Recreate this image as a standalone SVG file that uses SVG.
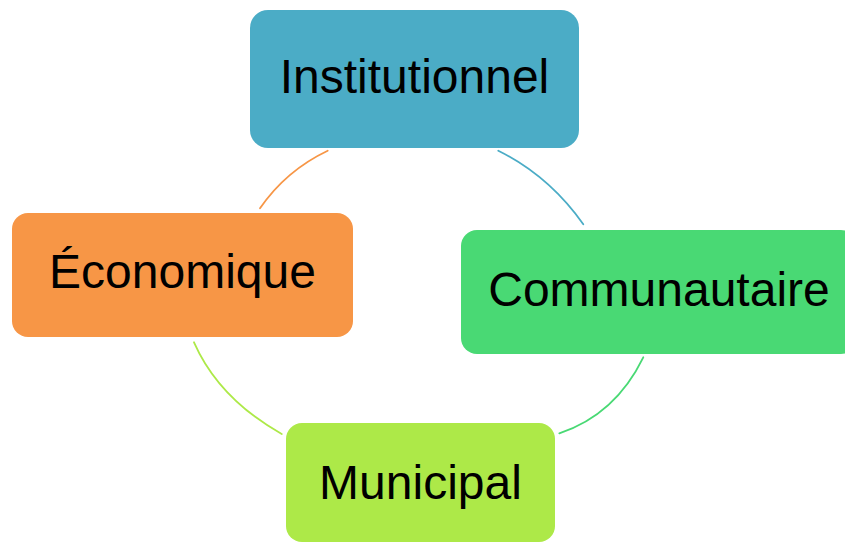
<svg xmlns="http://www.w3.org/2000/svg" width="845" height="543" viewBox="0 0 845 543">
<style>
.lbl{font-family:"Liberation Sans",Arial,sans-serif;font-size:48px;fill:#000;text-anchor:middle}
.arc{fill:none;stroke-width:1.8;stroke-linecap:round}
</style>
<rect width="845" height="543" fill="#fff"/>
<g id="connectors">
<path class="arc" stroke="#F79646" d="M327.7,150.7 Q286,170.5 260,208.3"/>
<path class="arc" stroke="#4BACC6" d="M498.3,150.7 Q549.2,175.9 583.3,224.3"/>
<path class="arc" stroke="#49D974" d="M643.3,357.3 Q615.3,414.7 559.3,433.3"/>
<path class="arc" stroke="#ADE948" d="M194,342.3 Q218.8,398.4 281.7,434"/>
</g>
<g id="institutionnel">
<rect x="250" y="10" width="329" height="138" rx="18" fill="#4BACC6"/>
<text class="lbl" x="414.5" y="93">Institutionnel</text>
</g>
<g id="communautaire">
<rect x="461" y="230" width="396" height="124" rx="16" fill="#49D974"/>
<text class="lbl" x="659" y="306">Communautaire</text>
</g>
<g id="municipal">
<rect x="286" y="423" width="269" height="119" rx="16" fill="#ADE948"/>
<text class="lbl" x="420.5" y="499">Municipal</text>
</g>
<g id="economique">
<rect x="12" y="213" width="341" height="124" rx="16" fill="#F79646"/>
<text class="lbl" x="182.5" y="288">Économique</text>
</g>
</svg>
